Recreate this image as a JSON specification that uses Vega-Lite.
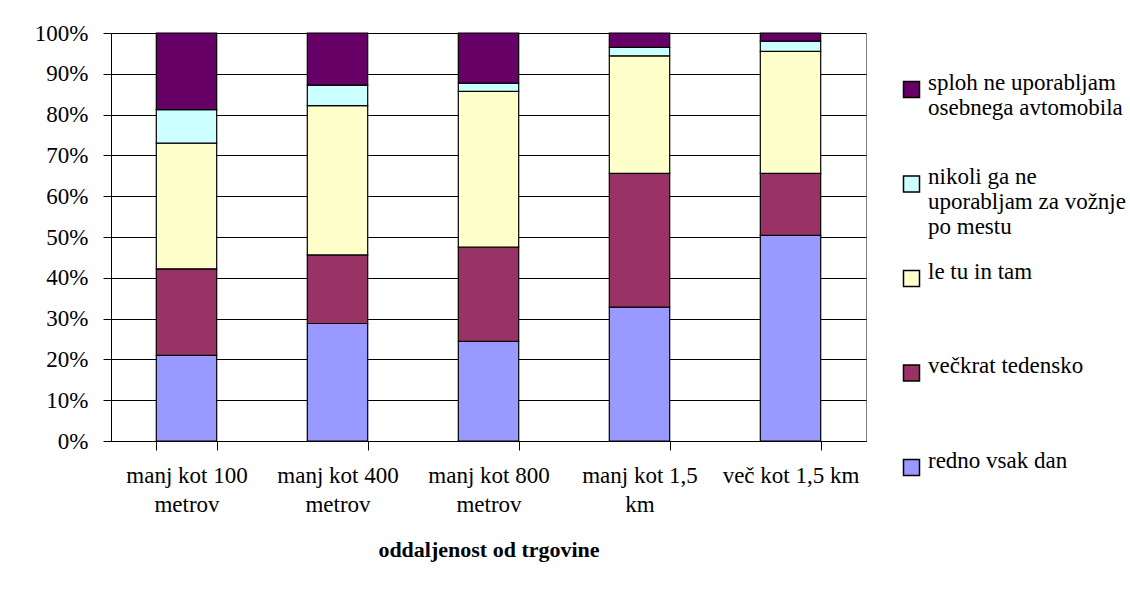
{
  "$schema": "https://vega.github.io/schema/vega-lite/v6.json",
  "width": 755,
  "height": 408,
  "autosize": {"type": "none"},
  "padding": {"left": 111, "top": 33, "right": 264, "bottom": 151},
  "background": "white",
  "config": {
    "font": "Liberation Serif",
    "view": {"stroke": "#808080", "strokeWidth": 1},
    "axis": {
      "labelFont": "Liberation Serif",
      "labelFontSize": 23,
      "labelColor": "black",
      "domainColor": "black",
      "tickColor": "black",
      "gridColor": "black",
      "gridOpacity": 1,
      "domainWidth": 1,
      "tickWidth": 1,
      "gridWidth": 1,
      "titleFont": "Liberation Serif",
      "titleColor": "black"
    }
  },
  "data": {
    "values": [
      {"dist": "manj kot 100 metrov", "series": "redno vsak dan", "rank": 1, "value": 21.0},
      {"dist": "manj kot 100 metrov", "series": "večkrat tedensko", "rank": 2, "value": 21.2},
      {"dist": "manj kot 100 metrov", "series": "le tu in tam", "rank": 3, "value": 30.8},
      {"dist": "manj kot 100 metrov", "series": "nikoli ga ne uporabljam za vožnje po mestu", "rank": 4, "value": 8.2},
      {"dist": "manj kot 100 metrov", "series": "sploh ne uporabljam osebnega avtomobila", "rank": 5, "value": 18.8},
      {"dist": "manj kot 400 metrov", "series": "redno vsak dan", "rank": 1, "value": 28.8},
      {"dist": "manj kot 400 metrov", "series": "večkrat tedensko", "rank": 2, "value": 16.8},
      {"dist": "manj kot 400 metrov", "series": "le tu in tam", "rank": 3, "value": 36.6},
      {"dist": "manj kot 400 metrov", "series": "nikoli ga ne uporabljam za vožnje po mestu", "rank": 4, "value": 5.0},
      {"dist": "manj kot 400 metrov", "series": "sploh ne uporabljam osebnega avtomobila", "rank": 5, "value": 12.8},
      {"dist": "manj kot 800 metrov", "series": "redno vsak dan", "rank": 1, "value": 24.4},
      {"dist": "manj kot 800 metrov", "series": "večkrat tedensko", "rank": 2, "value": 23.1},
      {"dist": "manj kot 800 metrov", "series": "le tu in tam", "rank": 3, "value": 38.2},
      {"dist": "manj kot 800 metrov", "series": "nikoli ga ne uporabljam za vožnje po mestu", "rank": 4, "value": 2.0},
      {"dist": "manj kot 800 metrov", "series": "sploh ne uporabljam osebnega avtomobila", "rank": 5, "value": 12.3},
      {"dist": "manj kot 1,5 km", "series": "redno vsak dan", "rank": 1, "value": 32.8},
      {"dist": "manj kot 1,5 km", "series": "večkrat tedensko", "rank": 2, "value": 32.8},
      {"dist": "manj kot 1,5 km", "series": "le tu in tam", "rank": 3, "value": 28.8},
      {"dist": "manj kot 1,5 km", "series": "nikoli ga ne uporabljam za vožnje po mestu", "rank": 4, "value": 2.1},
      {"dist": "manj kot 1,5 km", "series": "sploh ne uporabljam osebnega avtomobila", "rank": 5, "value": 3.5},
      {"dist": "več kot 1,5 km", "series": "redno vsak dan", "rank": 1, "value": 50.4},
      {"dist": "več kot 1,5 km", "series": "večkrat tedensko", "rank": 2, "value": 15.2},
      {"dist": "več kot 1,5 km", "series": "le tu in tam", "rank": 3, "value": 29.9},
      {"dist": "več kot 1,5 km", "series": "nikoli ga ne uporabljam za vožnje po mestu", "rank": 4, "value": 2.5},
      {"dist": "več kot 1,5 km", "series": "sploh ne uporabljam osebnega avtomobila", "rank": 5, "value": 2.0}
    ]
  },
  "mark": {"type": "bar", "stroke": "black", "strokeWidth": 1.2},
  "encoding": {
    "x": {
      "field": "dist",
      "type": "nominal",
      "sort": ["manj kot 100 metrov", "manj kot 400 metrov", "manj kot 800 metrov", "manj kot 1,5 km", "več kot 1,5 km"],
      "scale": {"paddingInner": 0.6, "paddingOuter": 0.3},
      "axis": {
        "title": "oddaljenost od trgovine",
        "titleFontSize": 22,
        "titleFontWeight": "bold",
        "titlePadding": 23,
        "labelAngle": 0,
        "tickBand": "extent",
        "tickSize": 9,
        "labelPadding": 14,
        "labelLineHeight": 29,
        "labelLimit": 300,
        "grid": false,
        "labelExpr": "indexof(datum.label, 'več') == 0 ? datum.label : [substring(datum.label, 0, lastindexof(datum.label, ' ')), substring(datum.label, lastindexof(datum.label, ' ') + 1)]"
      }
    },
    "y": {
      "field": "value",
      "type": "quantitative",
      "stack": "normalize",
      "scale": {"domain": [0, 1]},
      "axis": {
        "title": null,
        "format": ".0%",
        "values": [0, 0.1, 0.2, 0.3, 0.4, 0.5, 0.6, 0.7, 0.8, 0.9, 1],
        "tickSize": 8,
        "labelPadding": 15,
        "grid": true
      }
    },
    "color": {
      "field": "series",
      "type": "nominal",
      "scale": {
        "domain": ["sploh ne uporabljam osebnega avtomobila", "nikoli ga ne uporabljam za vožnje po mestu", "le tu in tam", "večkrat tedensko", "redno vsak dan"],
        "range": ["#660066", "#CCFFFF", "#FFFFCC", "#993366", "#9999FF"]
      },
      "legend": {
        "title": null,
        "orient": "none",
        "legendX": 789,
        "legendY": 45,
        "padding": 0,
        "symbolType": "square",
        "symbolSize": 256,
        "symbolStrokeColor": "black",
        "symbolStrokeWidth": 1.5,
        "symbolOpacity": 1,
        "labelFont": "Liberation Serif",
        "labelFontSize": 23,
        "labelColor": "black",
        "labelBaseline": "alphabetic",
        "labelLineHeight": 29,
        "labelLimit": 400,
        "labelOffset": 5,
        "rowPadding": 20.5,
        "labelExpr": "datum.label == 'sploh ne uporabljam osebnega avtomobila' ? ['sploh ne uporabljam', 'osebnega avtomobila', ''] : datum.label == 'nikoli ga ne uporabljam za vožnje po mestu' ? ['nikoli ga ne', 'uporabljam za vožnje', 'po mestu'] : [datum.label, '', '']"
      }
    },
    "order": {"field": "rank", "type": "quantitative", "sort": "ascending"}
  }
}
